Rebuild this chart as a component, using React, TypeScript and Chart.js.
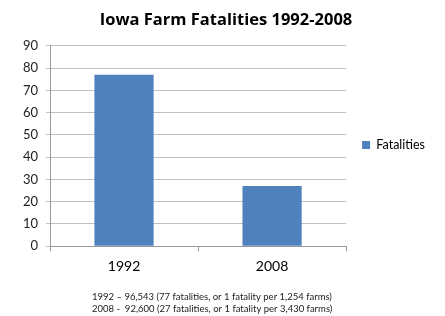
import React, { useEffect, useRef } from "react";
import { Chart, registerables } from "chart.js";

Chart.register(...registerables);

const categories = ["1992", "2008"];
const fatalities = [77, 27];
const seriesLabel = "Fatalities";
const titleText = "Iowa Farm Fatalities 1992-2008";
const footerLines = [
  "1992 \u2013 96,543 (77 fatalities, or 1 fatality per 1,254 farms)",
  "2008 -  92,600 (27 fatalities, or 1 fatality per 3,430 farms)",
];

const FONT = "Lato, 'Open Sans', 'Liberation Sans', sans-serif";
const TITLE_FONT = "'Open Sans', Lato, sans-serif";

const footerPlugin = {
  id: "footerNotes",
  afterDraw(chart: any) {
    const ctx = chart.ctx;
    ctx.save();
    ctx.font = `9.5px ${FONT}`;
    ctx.fillStyle = "#222";
    ctx.textAlign = "left";
    ctx.textBaseline = "middle";
    footerLines.forEach((line, i) => {
      ctx.fillText(line, 92, 297 + i * 12);
    });
    ctx.restore();
  },
};

export default function App() {
  const ref = useRef<HTMLCanvasElement>(null);

  useEffect(() => {
    document.body.style.margin = "0";
    const chart = new Chart(ref.current!, {
      type: "bar",
      data: {
        labels: categories,
        datasets: [
          {
            label: seriesLabel,
            data: fatalities,
            backgroundColor: "#4f81bd",
            borderWidth: 0,
            categoryPercentage: 1,
            barPercentage: 0.4,
          },
        ],
      },
      plugins: [footerPlugin],
      options: {
        animation: false,
        responsive: false,
        maintainAspectRatio: false,
        layout: { padding: { left: 17, right: 10, top: 8, bottom: 34 } },
        plugins: {
          title: {
            display: true,
            text: titleText,
            color: "#000",
            font: { family: TITLE_FONT, size: 16.5, weight: "bold" },
            padding: { top: 2, bottom: 16 },
          },
          legend: {
            position: "right",
            labels: {
              boxWidth: 8,
              boxHeight: 8,
              color: "#000",
              font: { family: FONT, size: 12.5 },
              padding: 16,
            },
          },
          tooltip: { enabled: false },
        },
        scales: {
          x: {
            offset: true,
            grid: {
              offset: true,
              drawOnChartArea: false,
              drawTicks: true,
              tickLength: 5,
              color: "#9a9a9a",
            },
            border: { color: "#9a9a9a" },
            ticks: {
              color: "#000",
              font: { family: FONT, size: 14 },
              padding: 7,
            },
          },
          y: {
            min: 0,
            max: 90,
            afterFit: (scale: any) => {
              scale.width = 33;
            },
            ticks: {
              stepSize: 10,
              color: "#222",
              font: { family: FONT, size: 13 },
              padding: 8,
            },
            grid: { color: "#c0c0c0", tickLength: 4 },
            border: { color: "#9a9a9a" },
          },
        },
      },
    });
    return () => chart.destroy();
  }, []);

  return (
    <div style={{ position: "relative", width: 445, height: 316, background: "#fff" }}>
      <canvas ref={ref} width={445} height={316} />
    </div>
  );
}
